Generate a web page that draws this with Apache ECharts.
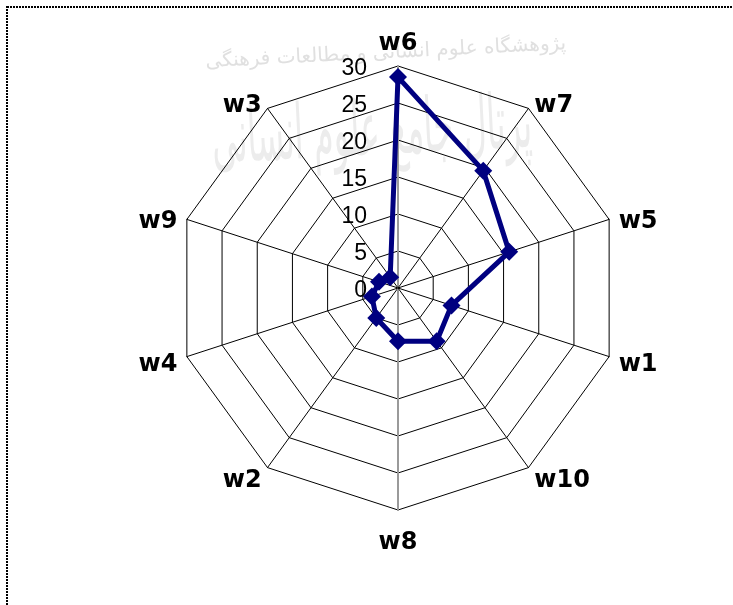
<!DOCTYPE html>
<html><head><meta charset="utf-8">
<script src="https://cdn.jsdelivr.net/npm/echarts@6/dist/echarts.min.js"></script>
<style>html,body{margin:0;padding:0;background:#fff}#c{width:733px;height:605px}</style>
</head><body><div id="c"></div>
<script>
// clockwise order as seen in the picture, starting at the top
const categories = ['w6','w7','w5','w1','w10','w8','w2','w4','w9','w3'];
const values     = [28.5, 19.6, 15.8, 7.6, 8.9, 7.2, 5.0, 3.7, 2.7, 1.8];
const axisMax = 30;
const tickStep = 5;

// ECharts radar lays indicators counter-clockwise; reverse the tail to get clockwise
const order = [0].concat(categories.slice(1).map((_, i) => categories.length - 1 - i));
const indicator = order.map((idx) => {
  const ind = { name: categories[idx], max: axisMax, min: 0 };
  if (categories[idx] === 'w6') {
    ind.axisLabel = { show: true };
    ind.axisLine = { lineStyle: { color: '#9a9a9a', width: 2 } };
  }
  if (categories[idx] === 'w8') {
    ind.axisLine = { lineStyle: { color: '#9a9a9a', width: 2 } };
  }
  return ind;
});
const data = order.map(idx => values[idx]);

const chart = echarts.init(document.getElementById('c'), null, { renderer: 'canvas' });
chart.setOption({
  animation: false,
  backgroundColor: '#fff',
  graphic: [
    { type: 'text', x: 205, y: 52, rotation: 0.05, silent: true, z: -10,
      style: { text: 'پژوهشگاه علوم انسانی و مطالعات فرهنگی', font: '20px "DejaVu Sans"', fill: '#e0e0e0' } },
    { type: 'text', x: 210, y: 105, rotation: 0.05, scaleX: 0.8, scaleY: 1.9, silent: true, z: -10,
      style: { text: 'پرتال جامع علوم انسانی', font: '40px "DejaVu Sans"', fill: '#ececec' } },
    { type: 'rect', shape: { x: 7, y: 7, width: 900, height: 800 }, silent: true,
      style: { fill: 'none', stroke: '#000', lineWidth: 2, lineDash: [2, 1] } }
  ],
  radar: {
    center: [398, 288],
    radius: 222,
    startAngle: 90,
    shape: 'polygon',
    splitNumber: axisMax / tickStep,
    indicator: indicator,
    axisName: {
      color: '#000', fontFamily: 'DejaVu Sans', fontWeight: 'bold', fontSize: 24,
      formatter: function (name) { return '{n|' + name + '}'; },
      rich: { n: { fontFamily: 'DejaVu Sans', fontWeight: 'bold', fontSize: 24, color: '#000', padding: [11, 0, 0, 0] } }
    },
    nameGap: 10,
    splitArea: { show: false },
    splitLine: { lineStyle: { color: '#000', width: 1 } },
    axisLine: { lineStyle: { color: '#000', width: 1 } },
    axisTick: { show: false },
    axisLabel: {
      show: false, color: '#000', fontFamily: 'Liberation Sans', fontSize: 23, margin: 31,
      formatter: function (v) { return '{t|' + v + '}'; },
      rich: { t: { fontFamily: 'Liberation Sans', fontSize: 23, color: '#000', padding: [6, 0, 0, 0] } }
    }
  },
  series: [{
    type: 'radar',
    symbol: 'diamond',
    symbolSize: 18,
    data: [{ value: data }],
    lineStyle: { color: '#000080', width: 5 },
    itemStyle: { color: '#000080' },
    areaStyle: null
  }]
});
</script></body></html>
